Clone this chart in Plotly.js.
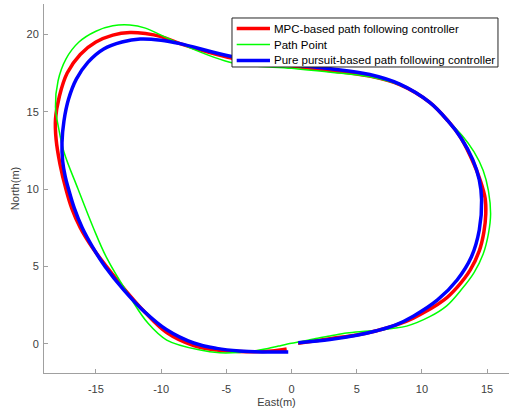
<!DOCTYPE html>
<html>
<head>
<meta charset="utf-8">
<script src="https://cdn.plot.ly/plotly-3.0.1.min.js"></script>
<style>html,body{margin:0;padding:0;background:#fff;}#chart{width:509px;height:414px;}</style>
</head>
<body>
<div id="chart"></div>
<script>
// MPC-based path following controller (red)
const mpcEast = [0.5, 2.95, 5.0, 6.53, 8.0, 9.34, 11.7, 12.7, 13.7, 14.4, 14.75, 14.9, 14.85, 14.5, 14.0, 13.0, 12.0, 10.6, 8.3, 6.0, 3.0, 0.0, -4.5, -8.55, -10.0, -11.2, -12.4, -13.7, -15.0, -16.2, -17.2, -17.8, -18.1, -18.05, -17.75, -17.3, -16.85, -16.2, -15.3, -14.2, -12.75, -11.2, -9.57, -7.5, -5.74, -4.0, -2.9, -1.5, -0.37];
const mpcNorth = [0.03, 0.33, 0.57, 0.84, 1.2, 1.66, 2.83, 3.65, 4.76, 6.0, 7.2, 8.4, 9.4, 10.5, 11.6, 13.3, 14.4, 15.6, 16.75, 17.3, 17.65, 17.95, 18.45, 19.4, 19.85, 20.05, 20.12, 19.95, 19.5, 18.7, 17.5, 16.0, 14.5, 13.2, 11.6, 10.0, 8.75, 7.5, 6.25, 5.0, 3.47, 2.0, 0.72, -0.12, -0.41, -0.5, -0.52, -0.47, -0.34];

// Path Point (green)
const pathEast = [0.0, 0.65, 2.0, 2.95, 4.23, 5.4, 6.53, 7.7, 8.83, 10.6, 11.9, 13.0, 14.0, 14.7, 15.1, 15.27, 15.1, 14.7, 14.0, 13.1, 12.0, 10.6, 8.3, 6.0, 3.0, 0.0, -4.5, -8.55, -10.0, -11.2, -12.4, -13.7, -15.0, -16.3, -17.3, -17.9, -18.1, -17.85, -17.45, -16.37, -15.2, -14.2, -12.4, -11.0, -9.57, -7.0, -5.5, -4.0, -2.95, -1.8, -1.0, 0.0];
const pathNorth = [0.03, 0.13, 0.36, 0.5, 0.69, 0.79, 0.86, 0.98, 1.14, 1.75, 2.45, 3.47, 4.6, 5.8, 7.1, 8.4, 9.9, 11.2, 12.4, 13.45, 14.4, 15.6, 16.72, 17.25, 17.55, 17.8, 18.15, 19.4, 19.95, 20.4, 20.6, 20.55, 20.2, 19.5, 18.4, 17.0, 15.3, 13.9, 12.4, 10.0, 7.5, 5.6, 3.04, 1.32, 0.24, -0.41, -0.58, -0.56, -0.47, -0.3, -0.15, 0.03];

// Pure pursuit-based path following controller (blue)
const ppEast = [0.52, 2.95, 5.0, 6.53, 8.0, 9.34, 11.2, 12.7, 13.8, 14.4, 14.58, 14.4, 13.9, 13.0, 12.0, 10.6, 8.3, 6.0, 3.0, 0.0, -4.5, -8.55, -10.0, -11.6, -13.0, -14.4, -15.6, -16.5, -17.1, -17.45, -17.6, -17.55, -17.35, -17.1, -16.65, -16.05, -15.25, -14.3, -12.85, -11.25, -9.6, -7.5, -5.74, -4.0, -2.0, -0.25];
const ppNorth = [0.07, 0.28, 0.55, 0.84, 1.22, 1.78, 2.83, 4.12, 5.62, 7.35, 9.29, 10.6, 11.9, 13.3, 14.4, 15.6, 16.78, 17.4, 17.78, 18.05, 18.55, 19.4, 19.62, 19.7, 19.5, 19.05, 18.2, 17.1, 15.8, 14.4, 13.0, 11.8, 10.8, 10.0, 8.75, 7.5, 6.25, 5.0, 3.47, 2.05, 0.92, 0.05, -0.3, -0.47, -0.53, -0.54];

const seriesNames = ['MPC-based path following controller', 'Path Point', 'Pure pursuit-based path following controller'];
const seriesColors = ['#ff0000', '#00ff00', '#0000ff'];
const seriesWidths = [3.5, 1.5, 3.5];
const xTickVals = [-15, -10, -5, 0, 5, 10, 15];
const xTickText = ['-15', '-10', '-5', '0', '5', '10', '15'];
const yTickVals = [0, 5, 10, 15, 20];
const yTickText = ['0', '5', '10', '15', '20'];

const xs = [mpcEast, pathEast, ppEast];
const ys = [mpcNorth, pathNorth, ppNorth];
const traces = xs.map((x, i) => ({
  x: x, y: ys[i], name: seriesNames[i], mode: 'lines', showlegend: false,
  line: {color: seriesColors[i], width: seriesWidths[i], shape: 'spline', smoothing: 1}
}));

const font = 'Liberation Sans, Arial, sans-serif';
const axisCommon = {
  showline: true, linecolor: '#a0a0a0', linewidth: 1,
  ticks: 'inside', ticklen: 4, tickcolor: '#a0a0a0', tickwidth: 1,
  showgrid: false, zeroline: false, mirror: false,
  tickfont: {family: font, size: 11, color: '#404040'}
};

// Legend box (MATLAB-style, compact)
const legBox = {x0: 0.4043, x1: 0.9763, y0: 0.8293, y1: 0.9621};
const legRowY = [0.9336, 0.8902, 0.8469];
const legLineX = [0.4144, 0.4860];
const legTextX = 0.4903;
const shapes = [{type: 'rect', xref: 'paper', yref: 'paper', x0: legBox.x0, x1: legBox.x1, y0: legBox.y0, y1: legBox.y1,
  line: {color: '#262626', width: 1}, fillcolor: '#ffffff', layer: 'above'}];
const annotations = [];
seriesNames.forEach((n, i) => {
  shapes.push({type: 'line', xref: 'paper', yref: 'paper', x0: legLineX[0], x1: legLineX[1], y0: legRowY[i], y1: legRowY[i],
    line: {color: seriesColors[i], width: seriesWidths[i]}, layer: 'above'});
  annotations.push({xref: 'paper', yref: 'paper', x: legTextX, y: legRowY[i], xanchor: 'left', yanchor: 'middle',
    text: n, showarrow: false, font: {family: font, size: 11.5, color: '#000000'}});
});

const layout = {
  width: 509, height: 414,
  margin: {l: 44, r: 0, t: 4, b: 41},
  paper_bgcolor: '#ffffff', plot_bgcolor: '#ffffff',
  showlegend: false,
  xaxis: Object.assign({}, axisCommon, {
    range: [-18.98, 16.68], tickmode: 'array', tickvals: xTickVals, ticktext: xTickText,
    ticklabelstandoff: 6,
    title: {text: 'East(m)', font: {family: font, size: 11, color: '#404040'}, standoff: 4}
  }),
  yaxis: Object.assign({}, axisCommon, {
    range: [-1.89, 21.96], tickmode: 'array', tickvals: yTickVals, ticktext: yTickText,
    ticklabelstandoff: 2,
    title: {text: 'North(m)', font: {family: font, size: 11, color: '#404040'}, standoff: 4}
  }),
  shapes: shapes,
  annotations: annotations
};

Plotly.newPlot('chart', traces, layout, {displayModeBar: false, staticPlot: true});
</script>
</body>
</html>
